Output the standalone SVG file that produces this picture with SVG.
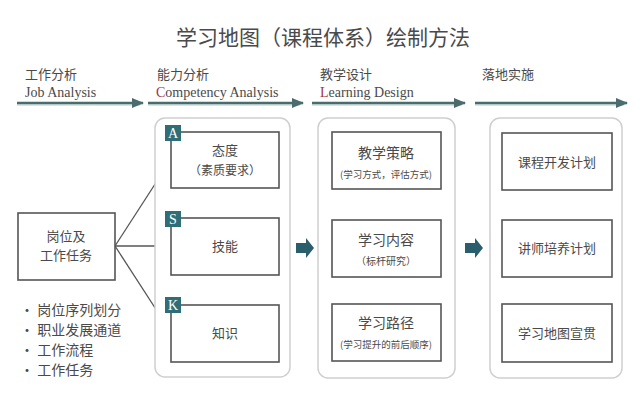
<svg xmlns="http://www.w3.org/2000/svg" width="640" height="409" viewBox="0 0 640 409">
<defs>
<style>
.cn{font-family:"Noto Sans CJK SC","Noto Sans",sans-serif;fill:#4a4a4a}
.en{font-family:"Liberation Serif",serif;fill:#4a4a4a;font-size:14px}
.red{fill:#a3343e}
.panel{fill:#ffffff;stroke:#cfcfcf;stroke-width:1.5}
.box{fill:#ffffff;stroke:#555;stroke-width:1.6}
.hdr{stroke:#4a6c6c;stroke-width:2.5;fill:none}
.hdr2{stroke:#a9cfcb;stroke-width:1;fill:none}
.conn{stroke:#555;stroke-width:1.3;fill:none}
.tag{fill:#2f6e76}
.tagt{font-family:"Liberation Serif",serif;fill:#fff;font-size:14px}
.big{fill:#2b5e6c}
</style>
<marker id="ah" viewBox="0 0 10 10" refX="9" refY="5" markerWidth="5" markerHeight="5" orient="auto">
<path d="M0,1 L10,5 L0,9 z" fill="#4a6c6c"/>
</marker>
<marker id="ac" viewBox="0 0 10 10" refX="9" refY="5" markerWidth="6" markerHeight="6" orient="auto">
<path d="M0,1 L10,5 L0,9 z" fill="#555"/>
</marker>
</defs>
<rect width="640" height="409" fill="#ffffff"/>
<text class="cn" x="323" y="45" font-size="21" text-anchor="middle" fill="#3a3a3a">学习地图（课程体系）绘制方法</text>

<g id="headers">
<text class="cn" x="25" y="79" font-size="13">工作分析</text>
<text class="en" x="25" y="97">Job Analysis</text>
<text class="cn" x="157" y="79" font-size="13">能力分析</text>
<text class="en" x="156" y="97"><tspan class="red">C</tspan>ompetency Analysis</text>
<text class="cn" x="320" y="79" font-size="13">教学设计</text>
<text class="en" x="320" y="97"><tspan class="red">L</tspan>earning Design</text>
<text class="cn" x="482" y="79" font-size="13">落地实施</text>
</g>

<g id="connectors">
<line class="hdr2" x1="17" y1="105" x2="140" y2="105"/>
<line class="hdr2" x1="148" y1="105" x2="300" y2="105"/>
<line class="hdr2" x1="312" y1="105" x2="462" y2="105"/>
<line class="hdr2" x1="475" y1="105" x2="624" y2="105"/>
<line class="hdr" x1="17" y1="103" x2="143" y2="103" marker-end="url(#ah)"/>
<line class="hdr" x1="148" y1="103" x2="303" y2="103" marker-end="url(#ah)"/>
<line class="hdr" x1="312" y1="103" x2="465" y2="103" marker-end="url(#ah)"/>
<line class="hdr" x1="475" y1="103" x2="627" y2="103" marker-end="url(#ah)"/>
<line class="conn" x1="115" y1="246" x2="170" y2="161" marker-end="url(#ac)"/>
<line class="conn" x1="115" y1="246" x2="170" y2="246" marker-end="url(#ac)"/>
<line class="conn" x1="115" y1="246" x2="170" y2="331" marker-end="url(#ac)"/>
<path class="big" d="M296,243 L306,243 L306,238 L314,248 L306,258 L306,253 L296,253 z"/>
<path class="big" d="M465,243 L475,243 L475,238 L483,248 L475,258 L475,253 L465,253 z"/>
</g>

<g id="panel1"><rect class="panel" x="155" y="118" width="135" height="259" rx="10"/></g>
<g id="panel2"><rect class="panel" x="318" y="118" width="137" height="260" rx="10"/></g>
<g id="panel3"><rect class="panel" x="490" y="118" width="132" height="260" rx="10"/></g>

<g id="job">
<rect class="box" x="18" y="213" width="97" height="67"/>
<text class="cn" x="66" y="241" font-size="13" text-anchor="middle">岗位及</text>
<text class="cn" x="66" y="260" font-size="13" text-anchor="middle">工作任务</text>
</g>

<g id="bullets">
<text class="cn" x="20" y="315" font-size="14">• 岗位序列划分</text>
<text class="cn" x="20" y="335" font-size="14">• 职业发展通道</text>
<text class="cn" x="20" y="355" font-size="14">• 工作流程</text>
<text class="cn" x="20" y="375" font-size="14">• 工作任务</text>
</g>

<g id="attitude">
<rect class="box" x="171" y="132" width="108" height="56"/>
<text class="cn" x="225" y="155" font-size="13" text-anchor="middle">态度</text>
<text class="cn" x="225" y="175" font-size="12" text-anchor="middle">（素质要求）</text>
<rect class="tag" x="165" y="125" width="16" height="16"/>
<text class="tagt" x="173" y="138" text-anchor="middle">A</text>
</g>
<g id="skill">
<rect class="box" x="171" y="218" width="108" height="57"/>
<text class="cn" x="225" y="251" font-size="13" text-anchor="middle">技能</text>
<rect class="tag" x="165" y="211" width="16" height="16"/>
<text class="tagt" x="173" y="224" text-anchor="middle">S</text>
</g>
<g id="knowledge">
<rect class="box" x="171" y="305" width="108" height="57"/>
<text class="cn" x="225" y="338" font-size="13" text-anchor="middle">知识</text>
<rect class="tag" x="165" y="297" width="16" height="16"/>
<text class="tagt" x="173" y="310" text-anchor="middle">K</text>
</g>

<g id="strategy">
<rect class="box" x="332" y="132" width="109" height="57"/>
<text class="cn" x="386" y="158" font-size="14" text-anchor="middle">教学策略</text>
<text class="cn" x="386" y="178" font-size="9.5" text-anchor="middle">(学习方式，评估方式)</text>
</g>
<g id="content">
<rect class="box" x="332" y="220" width="109" height="57"/>
<text class="cn" x="386" y="245" font-size="14" text-anchor="middle">学习内容</text>
<text class="cn" x="386" y="265" font-size="10" text-anchor="middle">（标杆研究）</text>
</g>
<g id="path">
<rect class="box" x="332" y="304" width="109" height="57"/>
<text class="cn" x="386" y="328" font-size="14" text-anchor="middle">学习路径</text>
<text class="cn" x="386" y="348" font-size="9.5" text-anchor="middle">(学习提升的前后顺序)</text>
</g>

<g id="plan1">
<rect class="box" x="502" y="133" width="110" height="57"/>
<text class="cn" x="557" y="167" font-size="13" text-anchor="middle">课程开发计划</text>
</g>
<g id="plan2">
<rect class="box" x="502" y="220" width="110" height="57"/>
<text class="cn" x="557" y="253" font-size="13" text-anchor="middle">讲师培养计划</text>
</g>
<g id="plan3">
<rect class="box" x="502" y="304" width="110" height="58"/>
<text class="cn" x="557" y="338" font-size="13" text-anchor="middle">学习地图宣贯</text>
</g>
</svg>
